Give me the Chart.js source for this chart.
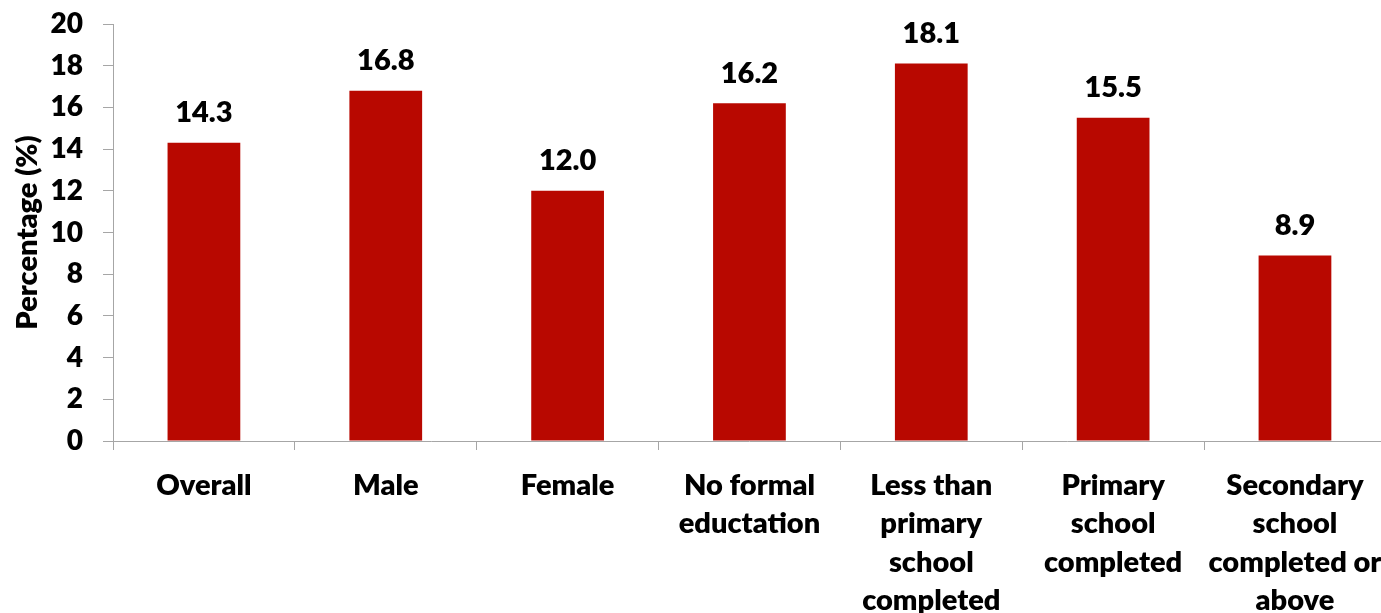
<!DOCTYPE html>
<html>
<head>
<meta charset="utf-8">
<script src="https://cdn.jsdelivr.net/npm/chart.js@4.4.1/dist/chart.umd.min.js"></script>
<style>
  html, body { margin: 0; padding: 0; background: #fff; overflow: hidden; }
  #wrap { position: relative; width: 1398px; height: 613px; }
</style>
</head>
<body>
<div id="wrap"><canvas id="chart"></canvas></div>
<script>
// categories and percentages
const categories = [
  "Overall",
  "Male",
  "Female",
  ["No formal", "eductation"],
  ["Less than", "primary", "school", "completed"],
  ["Primary", "school", "completed"],
  ["Secondary", "school", "completed or", "above"],
];
const percentages = [14.3, 16.8, 12.0, 16.2, 18.1, 15.5, 8.9];
const yTicks = [0, 2, 4, 6, 8, 10, 12, 14, 16, 18, 20];

const barColor = "#B80800";
const axisColor = "#A6A6A6";
const fontFamily = "Lato, 'Open Sans', sans-serif";
const fontWeight = 800;

// value labels above each bar
const valueLabels = {
  id: "valueLabels",
  afterDatasetsDraw(chart) {
    const ctx = chart.ctx;
    const meta = chart.getDatasetMeta(0);
    ctx.save();
    ctx.font = fontWeight + " 29px " + fontFamily;
    ctx.fillStyle = "#000";
    ctx.textAlign = "center";
    ctx.textBaseline = "middle";
    meta.data.forEach((bar, i) => {
      ctx.fillText(percentages[i].toFixed(1), bar.x, bar.y - 30);
    });
    ctx.restore();
  },
};

const ctx = document.getElementById("chart").getContext("2d");
new Chart(ctx, {
  type: "bar",
  data: {
    labels: categories,
    datasets: [
      {
        data: percentages,
        backgroundColor: barColor,
        borderWidth: 0,
        barPercentage: 0.4,
        categoryPercentage: 1.0,
      },
    ],
  },
  options: {
    responsive: true,
    maintainAspectRatio: false,
    animation: false,
    layout: { padding: { top: 24, right: 8, bottom: 0, left: 0 } },
    plugins: {
      legend: { display: false },
      tooltip: { enabled: false },
    },
    scales: {
      x: {
        offset: true,
        grid: {
          offset: true,
          drawOnChartArea: false,
          drawTicks: true,
          tickLength: 9,
          color: axisColor,
        },
        border: { color: axisColor, width: 1 },
        ticks: {
          autoSkip: false,
          maxRotation: 0,
          minRotation: 0,
          padding: 16,
          color: "#000",
          font: { family: fontFamily, size: 29, weight: fontWeight, lineHeight: 1.33 },
        },
        afterFit(scale) {
          scale.height = 172;
        },
      },
      y: {
        min: 0,
        max: 20,
        afterBuildTicks(scale) {
          scale.ticks = yTicks.map((v) => ({ value: v }));
        },
        grid: {
          drawOnChartArea: false,
          drawTicks: true,
          tickLength: 10,
          color: axisColor,
        },
        border: { color: axisColor, width: 1 },
        ticks: {
          padding: 20,
          color: "#000",
          font: { family: fontFamily, size: 28, weight: fontWeight },
        },
        title: {
          display: true,
          text: "Percentage (%)",
          color: "#000",
          padding: { top: 10, bottom: 0 },
          font: { family: fontFamily, size: 29, weight: fontWeight },
        },
        afterFit(scale) {
          // fixed axis width; drop the extra label padding above/below
          scale.width = 113;
          scale.paddingTop = 0;
          scale.paddingBottom = 0;
        },
      },
    },
  },
  plugins: [valueLabels],
});
</script>
</body>
</html>
